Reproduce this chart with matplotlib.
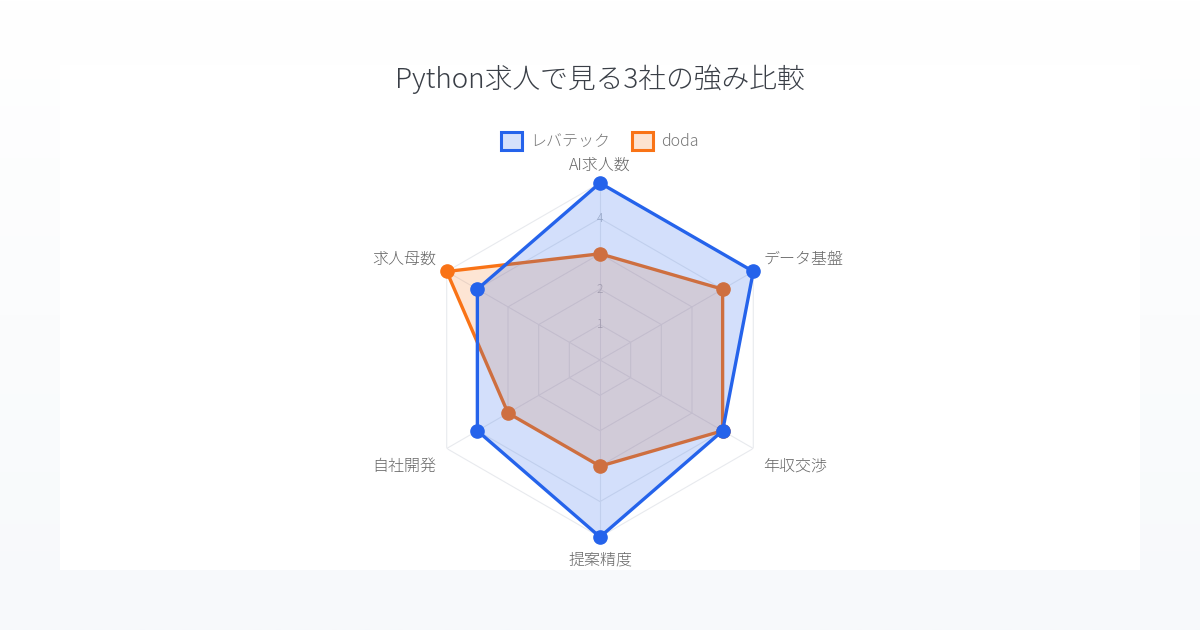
import numpy as np
import matplotlib.pyplot as plt
from matplotlib.patches import Rectangle, Patch

plt.rcParams['font.family'] = ['Noto Sans CJK JP', 'DejaVu Sans']

categories = ['AI求人数', 'データ基盤', '年収交渉', '提案精度', '自社開発', '求人母数']
levtech = [5, 5, 4, 5, 4, 4]
doda = [3, 4, 4, 3, 3, 5]
grid_levels = [1, 2, 3, 4, 5]
tick_labels = ['1', '2', '3', '4', '5']

blue = '#2563eb'
orange = '#f97316'

fig = plt.figure(figsize=(12, 6.3), dpi=100)

# background: soft vertical gradient + white panel
bg = fig.add_axes([0, 0, 1, 1])
grad = np.linspace(0, 1, 256).reshape(-1, 1)
top = np.array([1.0, 1.0, 1.0])
bot = np.array([0xf7, 0xf9, 0xfb]) / 255
img = top + (bot - top) * grad[:, :, None]
bg.imshow(img, aspect='auto', extent=[0, 1, 0, 1], origin='upper')
bg.add_patch(Rectangle((60 / 1200, 60 / 630), 1080 / 1200, 505 / 630,
                       facecolor='white', edgecolor='none'))
bg.set_xlim(0, 1)
bg.set_ylim(0, 1)
bg.axis('off')

ax = fig.add_axes([0.3525, 0.1476, 0.295, 0.562], projection='polar')
ax.set_theta_offset(np.pi / 2)
ax.set_theta_direction(-1)
ax.set_ylim(0, 5)
ax.grid(False)
ax.spines['polar'].set_visible(False)
ax.set_xticks([])
ax.set_yticks([])
ax.patch.set_alpha(0)

n = len(categories)
angles = np.linspace(0, 2 * np.pi, n, endpoint=False)
closed = np.append(angles, angles[0])

# hexagonal grid
for lvl in grid_levels:
    ax.plot(closed, [lvl] * (n + 1), color='#e8eaee', lw=0.8, zorder=1)
for a in angles:
    ax.plot([a, a], [0, 5], color='#e8eaee', lw=0.8, zorder=1)

for lvl, lab in zip(grid_levels, tick_labels):
    ax.text(0, lvl, lab, ha='center', va='center', fontsize=8.5, color='#b0b4bb',
            fontweight=300, zorder=2)


def draw(vals, color, fill_alpha):
    v = np.append(vals, vals[0])
    ax.plot(closed, v, color=color, lw=2.4, zorder=3, solid_joinstyle='round', clip_on=False)
    ax.fill(closed, v, color=color, alpha=fill_alpha, zorder=3, lw=0, clip_on=False)
    ax.plot(angles, vals, 'o', color=color, ms=9.5, zorder=3, clip_on=False)


draw(doda, orange, 0.18)
draw(levtech, blue, 0.2)

# axis labels, offset in pixels from the outer vertex
label_offsets = [(0, 18, 'center'), (10, 12, 'left'), (10, -18, 'left'),
                 (0, -23, 'center'), (-10, -18, 'right'), (-10, 12, 'right')]
for a, lab, (dx, dy, ha) in zip(angles, categories, label_offsets):
    ax.annotate(lab, xy=(a, 5), xytext=(dx * 0.72, dy * 0.72), textcoords='offset points',
                ha=ha, va='center', fontsize=11.5, color='#666666', fontweight=300,
                annotation_clip=False)

fig.text(0.5, 0.874, 'Python求人で見る3社の強み比較', ha='center', va='center',
         fontsize=20, color='#3a3f47', fontweight=300)

handles = [Patch(facecolor='#d6e1fb', edgecolor=blue, lw=2.2, label='レバテック'),
           Patch(facecolor='#fde3d0', edgecolor=orange, lw=2.2, label='doda')]
leg = fig.legend(handles=handles, loc='center', bbox_to_anchor=(0.5, 0.776), ncol=2,
                 frameon=False, handlelength=1.3, handleheight=1.3,
                 handletextpad=0.5, columnspacing=1.4, prop={'weight': 300, 'size': 11.5})
for t in leg.get_texts():
    t.set_color('#777777')

fig.savefig('out.png', dpi=100)
